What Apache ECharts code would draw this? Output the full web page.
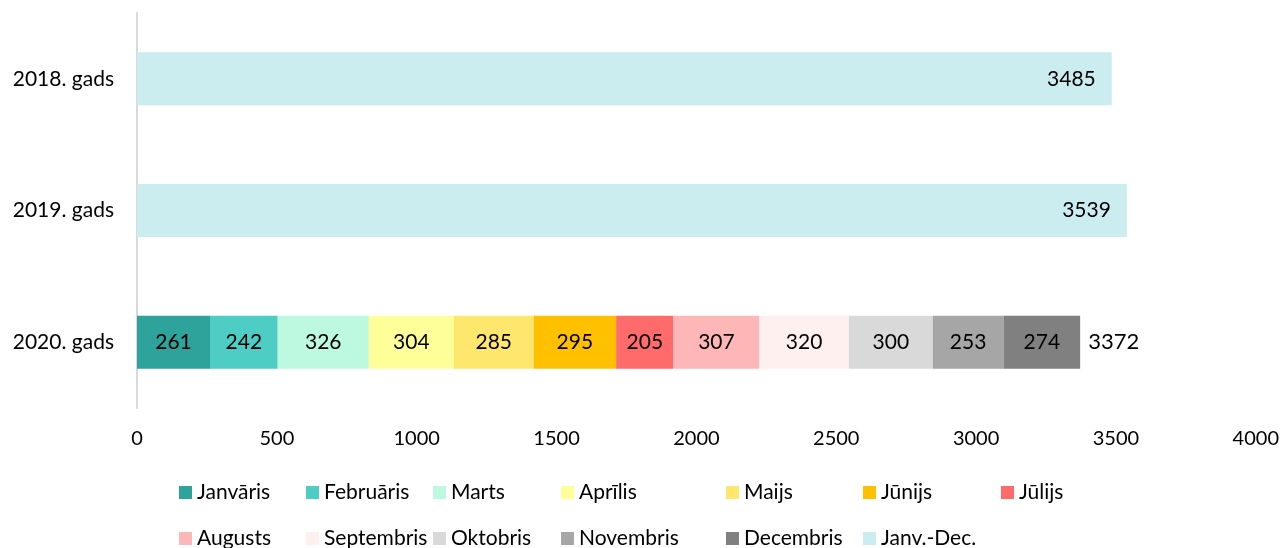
<!DOCTYPE html>
<html>
<head>
<meta charset="utf-8">
<script src="https://cdn.jsdelivr.net/npm/echarts@6/dist/echarts.min.js"></script>
<style>
  html, body { margin: 0; background: #fff; }
  #chart { width: 1282px; height: 548px; }
</style>
</head>
<body>
<div id="chart"></div>
<script>
const years = ['2018. gads', '2019. gads', '2020. gads'];
const months = ['Janvāris', 'Februāris', 'Marts', 'Aprīlis', 'Maijs', 'Jūnijs', 'Jūlijs',
  'Augusts', 'Septembris', 'Oktobris', 'Novembris', 'Decembris'];
const monthly2020 = [261, 242, 326, 304, 285, 295, 205, 307, 320, 300, 253, 274];
const totalName = 'Janv.-Dec.';
const yearTotals = [3485, 3539, 3372];

const monthColors = ['#2ea39c', '#4ecdc4', '#bdf8e0', '#ffff99', '#ffe66d', '#ffc000', '#ff6b6b',
  '#ffb6b6', '#fff0f0', '#d9d9d9', '#a6a6a6', '#808080'];
const totalColor = '#ccedf0';
const FONT = 'Lato';

// legend slots (two rows, fixed columns like the original)
const colLeft = [179, 306, 433, 561, 726, 863, 1001];
const rowTop = [482, 528];

const chart = echarts.init(document.getElementById('chart'));

const monthSeries = months.map((m, i) => ({
  name: m,
  type: 'bar',
  stack: 'y',
  barWidth: 53,
  itemStyle: { color: monthColors[i] },
  label: { show: true, position: 'inside', color: '#000', fontFamily: FONT, fontSize: 21 },
  data: years.map((y, k) => (k === 2 ? monthly2020[i] : null)),
}));

const totalSeries = {
  name: totalName,
  type: 'bar',
  stack: 'y',
  barWidth: 53,
  itemStyle: { color: totalColor },
  label: {
    show: true, position: 'insideRight', distance: 16, color: '#000',
    fontFamily: FONT, fontSize: 21,
    formatter: (p) => yearTotals[p.dataIndex],
  },
  data: yearTotals.map((v, k) => (k === 2
    ? { value: 0, label: { position: 'right', distance: 8, fontSize: 22 } }
    : v)),
};

const allNames = months.concat([totalName]);
const legends = allNames.map((n, i) => ({
  data: [n],
  left: colLeft[i < 7 ? i : i - 7],
  top: rowTop[i < 7 ? 0 : 1],
  icon: 'rect',
  itemWidth: 13,
  itemHeight: 13,
  padding: 0,
  selectedMode: false,
  textStyle: { color: '#000', fontFamily: FONT, fontSize: 21 },
}));

chart.setOption({
  animation: false,
  textStyle: { fontFamily: FONT },
  grid: { left: 137, right: 25, top: 13, bottom: 140, containLabel: false },
  legend: legends,
  xAxis: {
    type: 'value',
    min: 0,
    max: 4000,
    interval: 500,
    axisLine: { show: false },
    axisTick: { show: false },
    splitLine: { show: false },
    axisLabel: { color: '#000', fontFamily: FONT, fontSize: 20, margin: 21, formatter: (v) => String(v) },
  },
  yAxis: {
    type: 'category',
    inverse: true,
    data: years,
    axisLine: { show: true, lineStyle: { color: '#d9d9d9', width: 2 } },
    axisTick: { show: false },
    axisLabel: { color: '#000', fontFamily: FONT, fontSize: 21, margin: 23 },
  },
  series: monthSeries.concat([totalSeries]),
});
</script>
</body>
</html>
